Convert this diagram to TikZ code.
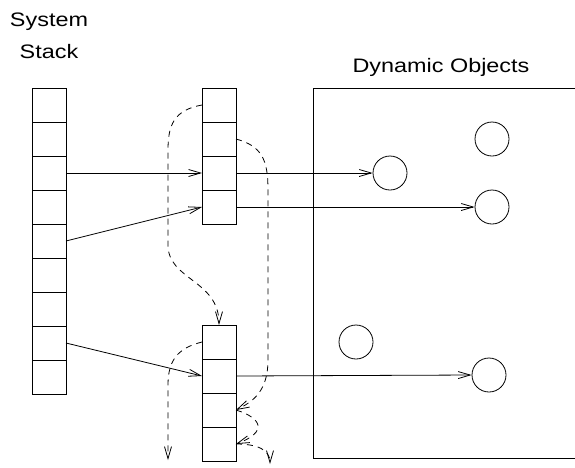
\documentclass[tikz,border=0pt]{standalone}
\usepackage{fontspec}
\setmainfont{Liberation Sans}
\newfontfamily\lblfont[FakeStretch=1.2]{Liberation Sans}
\usetikzlibrary{arrows.meta}

\begin{document}
\begin{tikzpicture}[x=1pt, y=-1pt, line width=0.8pt,
    cell/.style={draw, minimum width=34pt, minimum height=34pt, inner sep=0pt, outer sep=0pt},
    obj/.style={draw, circle, minimum size=34pt, inner sep=0pt},
    ptr/.style={-{Straight Barb[length=12pt,width=7pt]}},
    link/.style={ptr, dash pattern=on 6pt off 5pt},
    lbl/.style={font=\lblfont\fontsize{19.5}{23}\selectfont, anchor=base, inner sep=0pt}]
    \useasboundingbox (0,0) rectangle (575,467);

    % labels
    \node[lbl] (sysname) at (49,26) {System};
    \node[lbl] (stkname) at (49,58) {Stack};
    \node[lbl] (heapname) at (441,72) {Dynamic Objects};

    % heap area
    \draw (580,88) -- (313,88) -- (313,458) -- (580,458);

    % stack and frames
    \foreach \i in {1,...,9}
        \node[cell] (s\i) at (49,{71+34*\i}) {};
    \foreach \i in {1,...,4} {
        \node[cell] (a\i) at (219,{71+34*\i}) {};
        \node[cell] (b\i) at (219,{308+34*\i}) {};
    }

    % objects
    \node[obj] (o1) at (390,173) {};
    \node[obj] (o2) at (492,139) {};
    \node[obj] (o3) at (492,207) {};
    \node[obj] (o4) at (356,342) {};
    \node[obj] (o5) at (489,375) {};

    % pointers
    \draw[ptr] (s3.east) -- (a3.west);
    \draw[ptr] (s5.east) -- (a4.west);
    \draw[ptr] (s8.east) -- (b2.west);
    \draw[ptr] (a3.east) -- (o1.west);
    \draw[ptr] (a4.east) -- (o3.west);
    \draw[ptr] (b2.east) -- (o5.west);

    % dynamic links
    \coordinate (out1) at (168,460);
    \coordinate (out2) at (270,464);
    \draw[link] (a1.west) .. controls (174,110) and (168,125) .. (168,150) -- (168,245)
        .. controls (168,280) and (219,280) .. (b1.north);
    \draw[link] (a2.east) .. controls (262,146) and (268,160) .. (268,190) -- (268,360)
        .. controls (268,392) and (252,402) .. (b3.east);
    \draw[link] (b1.west) .. controls (178,348) and (168,360) .. (168,385) -- (out1);
    \draw[link] (b3.east) .. controls (262,418) and (268,432) .. (b4.east);
    \draw[link] (b4.east) .. controls (258,444) and (270,450) .. (out2);
\end{tikzpicture}
\end{document}
